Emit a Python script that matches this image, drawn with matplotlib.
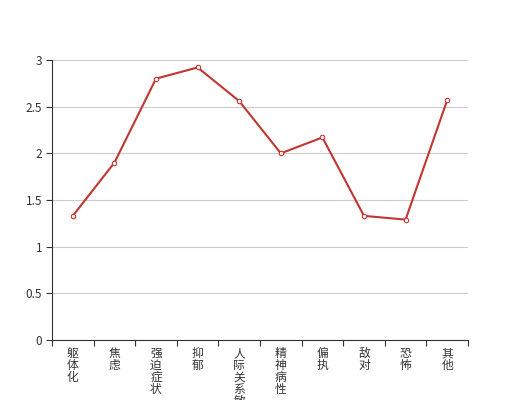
import matplotlib
matplotlib.use('Agg')
import matplotlib.pyplot as plt

# SCL-90 factor scores
categories = ['躯体化', '焦虑', '强迫症状', '抑郁', '人际关系敏感',
              '精神病性', '偏执', '敌对', '恐怖', '其他']
scores = [1.33, 1.90, 2.80, 2.92, 2.56, 2.00, 2.17, 1.33, 1.29, 2.57]
y_ticks = [0, 0.5, 1, 1.5, 2, 2.5, 3]
y_tick_labels = ['0', '0.5', '1', '1.5', '2', '2.5', '3']

LINE_C = '#c23531'
AXIS_C = '#333333'
GRID_C = '#cccccc'

plt.rcParams['font.family'] = ['Noto Sans CJK SC', 'DejaVu Sans']

fig = plt.figure(figsize=(5.2, 4.0), dpi=100)
ax = fig.add_axes([52 / 520, 60 / 400, 416 / 520, 280 / 400])

n = len(categories)
xs = list(range(n))
ax.plot(xs, scores, color=LINE_C, lw=1.5, marker='o', markersize=3.2,
        markerfacecolor='white', markeredgecolor=LINE_C, markeredgewidth=0.8,
        zorder=5, clip_on=False)

ax.set_xlim(-0.5, n - 0.5)
ax.set_ylim(0, 3)

# y axis
ax.set_yticks(y_ticks)
ax.set_yticklabels(y_tick_labels, fontsize=8.5, color=AXIS_C)
ax.yaxis.grid(True, color=GRID_C, lw=0.8)
ax.set_axisbelow(True)
ax.tick_params(axis='y', length=4, width=0.8, color=AXIS_C, pad=3)

# x axis: ticks on category boundaries, labels stacked vertically
ax.set_xticks([i - 0.5 for i in range(n + 1)])
ax.set_xticklabels([])
ax.tick_params(axis='x', length=4, width=0.8, color=AXIS_C)
for i, c in enumerate(categories):
    ax.text(i, -0.025, '\n'.join(c), transform=ax.get_xaxis_transform(),
            ha='center', va='top', fontsize=8.5, color=AXIS_C, linespacing=0.9)

for s in ['top', 'right']:
    ax.spines[s].set_visible(False)
for s in ['left', 'bottom']:
    ax.spines[s].set_color(AXIS_C)
    ax.spines[s].set_linewidth(0.8)

fig.savefig('out.png', dpi=100)
